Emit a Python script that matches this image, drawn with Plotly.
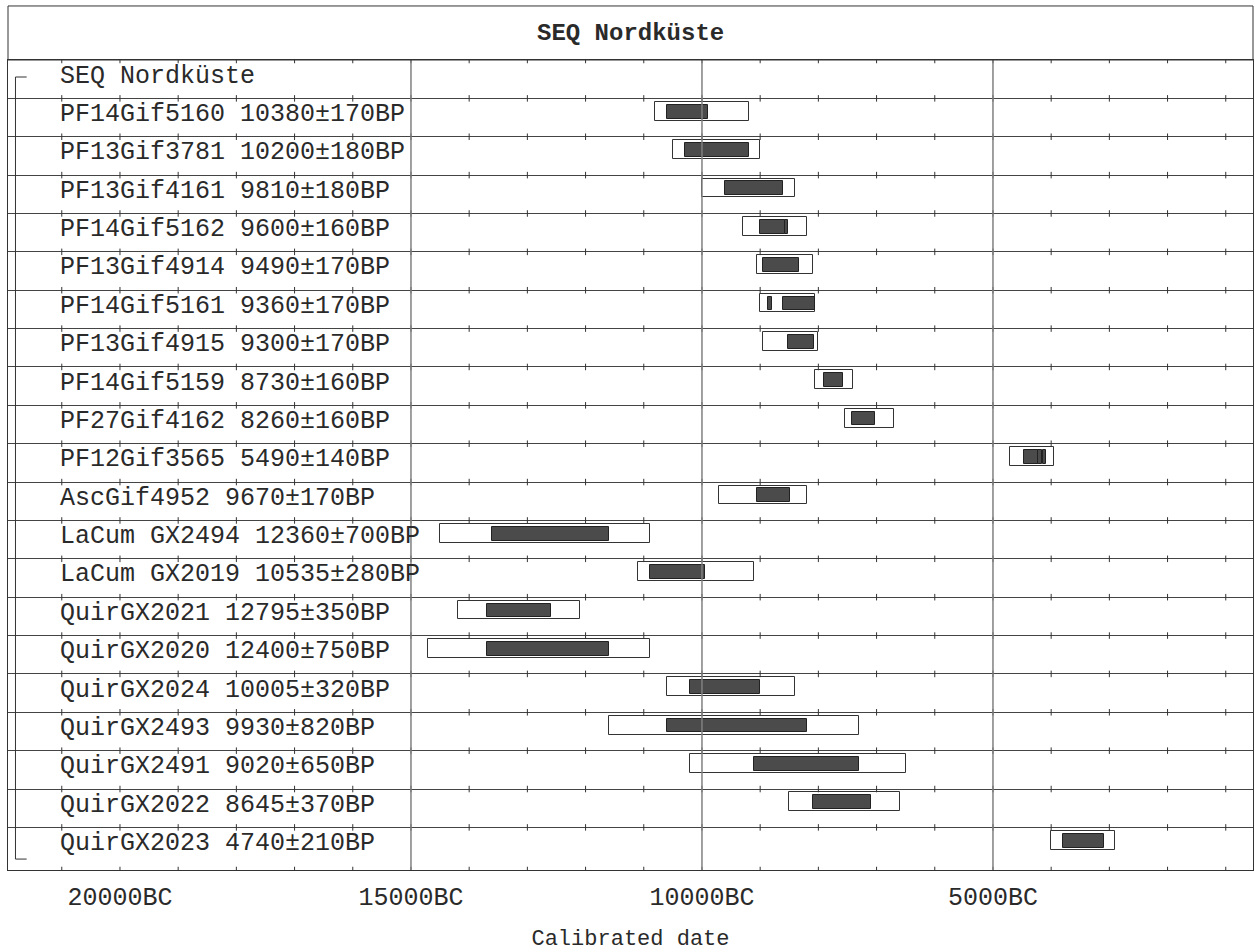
import plotly.graph_objects as go

# ---------------- data ----------------
title_text = "SEQ Nordküste"
names = ["PF14Gif5160", "PF13Gif3781", "PF13Gif4161", "PF14Gif5162", "PF13Gif4914",
         "PF14Gif5161", "PF13Gif4915", "PF14Gif5159", "PF27Gif4162", "PF12Gif3565",
         "AscGif4952", "LaCum GX2494", "LaCum GX2019", "QuirGX2021", "QuirGX2020",
         "QuirGX2024", "QuirGX2493", "QuirGX2491", "QuirGX2022", "QuirGX2023"]
bp_age = [10380, 10200, 9810, 9600, 9490, 9360, 9300, 8730, 8260, 5490,
          9670, 12360, 10535, 12795, 12400, 10005, 9930, 9020, 8645, 4740]
bp_err = [170, 180, 180, 160, 170, 170, 170, 160, 160, 140,
          170, 700, 280, 350, 750, 320, 820, 650, 370, 210]

# 95.4% calibrated range (years BC)
r95_from = [10800, 10500, 10000, 9300, 9050, 9000, 8950, 8050, 7550, 4700,
            9700, 14500, 11100, 14200, 14700, 10600, 11600, 10200, 8500, 4000]
r95_to = [9200, 9000, 8400, 8200, 8100, 8050, 8000, 7400, 6700, 3950,
          8190, 10900, 9100, 12100, 10900, 8400, 7300, 6500, 6600, 2900]

# 68.2% calibrated range segments (row index 1..20, years BC)
r68_row = [1, 2, 3, 4, 4, 5, 6, 6, 7, 8, 9, 10, 10, 10,
           11, 12, 13, 14, 15, 16, 17, 18, 19, 20]
r68_from = [10600, 10300, 9600, 9000, 8575, 8950, 8870, 8600, 8520, 7910, 7430, 4470, 4220, 4140,
            9050, 13600, 10900, 13700, 13700, 10200, 10600, 9100, 8100, 3800]
r68_to = [9900, 9200, 8600, 8575, 8530, 8340, 8800, 8050, 8080, 7570, 7030, 4220, 4160, 4090,
          8490, 11600, 9940, 12600, 11600, 9000, 8200, 7300, 7100, 3100]

tick_years = [20000, 15000, 10000, 5000]
tick_text = ["20000BC", "15000BC", "10000BC", "5000BC"]
minor_years = list(range(21000, 0, -1000))
major_lines = [15000, 10000, 5000]
x_title = "Calibrated date"

# ---------------- layout constants ----------------
FONT = "Liberation Mono"
X_RANGE = [21924, 532]
N_ROWS = len(names) + 1
Y_BOTTOM = 21.11
OUT_TOP, OUT_BOT = 0.09, 0.58
IN_TOP, IN_BOT = 0.165, 0.525
TXT = "#2a2a2a"

labels = [title_text] + [f"{n} {a}±{e}BP" for n, a, e in zip(names, bp_age, bp_err)]
rows = list(range(1, N_ROWS))

fig = go.Figure()

# outer (95%) boxes
fig.add_trace(go.Bar(
    orientation="h",
    y=[r + (OUT_TOP + OUT_BOT) / 2 for r in rows],
    base=r95_to,
    x=[f - t for f, t in zip(r95_from, r95_to)],
    width=OUT_BOT - OUT_TOP,
    marker=dict(color="white", line=dict(color="#333333", width=1)),
    hoverinfo="skip", showlegend=False,
))
# inner (68%) bars
fig.add_trace(go.Bar(
    orientation="h",
    y=[r + (IN_TOP + IN_BOT) / 2 for r in r68_row],
    base=r68_to,
    x=[f - t for f, t in zip(r68_from, r68_to)],
    width=IN_BOT - IN_TOP,
    marker=dict(color="#4b4b4b", line=dict(color="#222222", width=1)),
    hoverinfo="skip", showlegend=False,
))

# small tick marks at each row boundary
tx, ty = [], []
bounds = list(range(0, N_ROWS)) + [Y_BOTTOM]
for b in bounds:
    for yr in minor_years:
        tx += [yr, yr, None]
        ty += [b - 0.085, b + 0.085, None]
fig.add_trace(go.Scatter(x=tx, y=ty, mode="lines",
                         line=dict(color="#333333", width=1),
                         hoverinfo="skip", showlegend=False))

shapes = []
for yr in major_lines:
    shapes.append(dict(type="line", xref="x", yref="paper", x0=yr, x1=yr, y0=0, y1=1,
                       line=dict(color="#808080", width=1.5), layer="above"))
# title box
shapes.append(dict(type="rect", xref="paper", yref="paper", x0=0, x1=1, y0=1, y1=1.0667,
                   line=dict(color="#333333", width=1)))
# sequence bracket
bx0, bx1 = 0.006, 0.015
by0, by1 = 0.0135, 0.979
shapes += [
    dict(type="line", xref="paper", yref="paper", x0=bx0, x1=bx0, y0=by0, y1=by1,
         line=dict(color="#333333", width=1)),
    dict(type="line", xref="paper", yref="paper", x0=bx0, x1=bx1, y0=by1, y1=by1,
         line=dict(color="#333333", width=1)),
    dict(type="line", xref="paper", yref="paper", x0=bx0, x1=bx1, y0=by0, y1=by0,
         line=dict(color="#333333", width=1)),
]

annotations = []
for i, lab in enumerate(labels):
    annotations.append(dict(xref="paper", yref="y", x=0.0402, y=i + 0.42, text=lab,
                            showarrow=False, xanchor="left", yanchor="middle",
                            font=dict(family=FONT, size=25, color=TXT)))
annotations.append(dict(xref="paper", yref="paper", x=0.5, y=1.0333,
                        text=f"<b>{title_text}</b>", showarrow=False,
                        xanchor="center", yanchor="middle",
                        font=dict(family=FONT, size=24, color=TXT)))

fig.update_layout(
    width=1255, height=952,
    margin=dict(l=8, r=2, t=60, b=82),
    paper_bgcolor="white", plot_bgcolor="white",
    barmode="overlay", bargap=0,
    shapes=shapes, annotations=annotations,
    showlegend=False,
    xaxis=dict(range=X_RANGE, tickvals=tick_years, ticktext=tick_text,
               showgrid=False, zeroline=False, ticks="",
               showline=True, mirror=True, linecolor="#333333", linewidth=1,
               tickfont=dict(family=FONT, size=25, color=TXT),
               ticklabelstandoff=4,
               title=dict(text=x_title, standoff=22,
                          font=dict(family=FONT, size=22, color=TXT))),
    yaxis=dict(range=[Y_BOTTOM, 0], tickvals=list(range(1, N_ROWS)),
               showticklabels=False, ticks="", showgrid=True,
               gridcolor="#444444", gridwidth=1, zeroline=False,
               showline=True, mirror=True, linecolor="#333333", linewidth=1),
)

fig.write_html(
    "out.html",
    config={"displayModeBar": False},
    post_script="document.body.style.margin='0';document.body.style.overflow='hidden';",
)
